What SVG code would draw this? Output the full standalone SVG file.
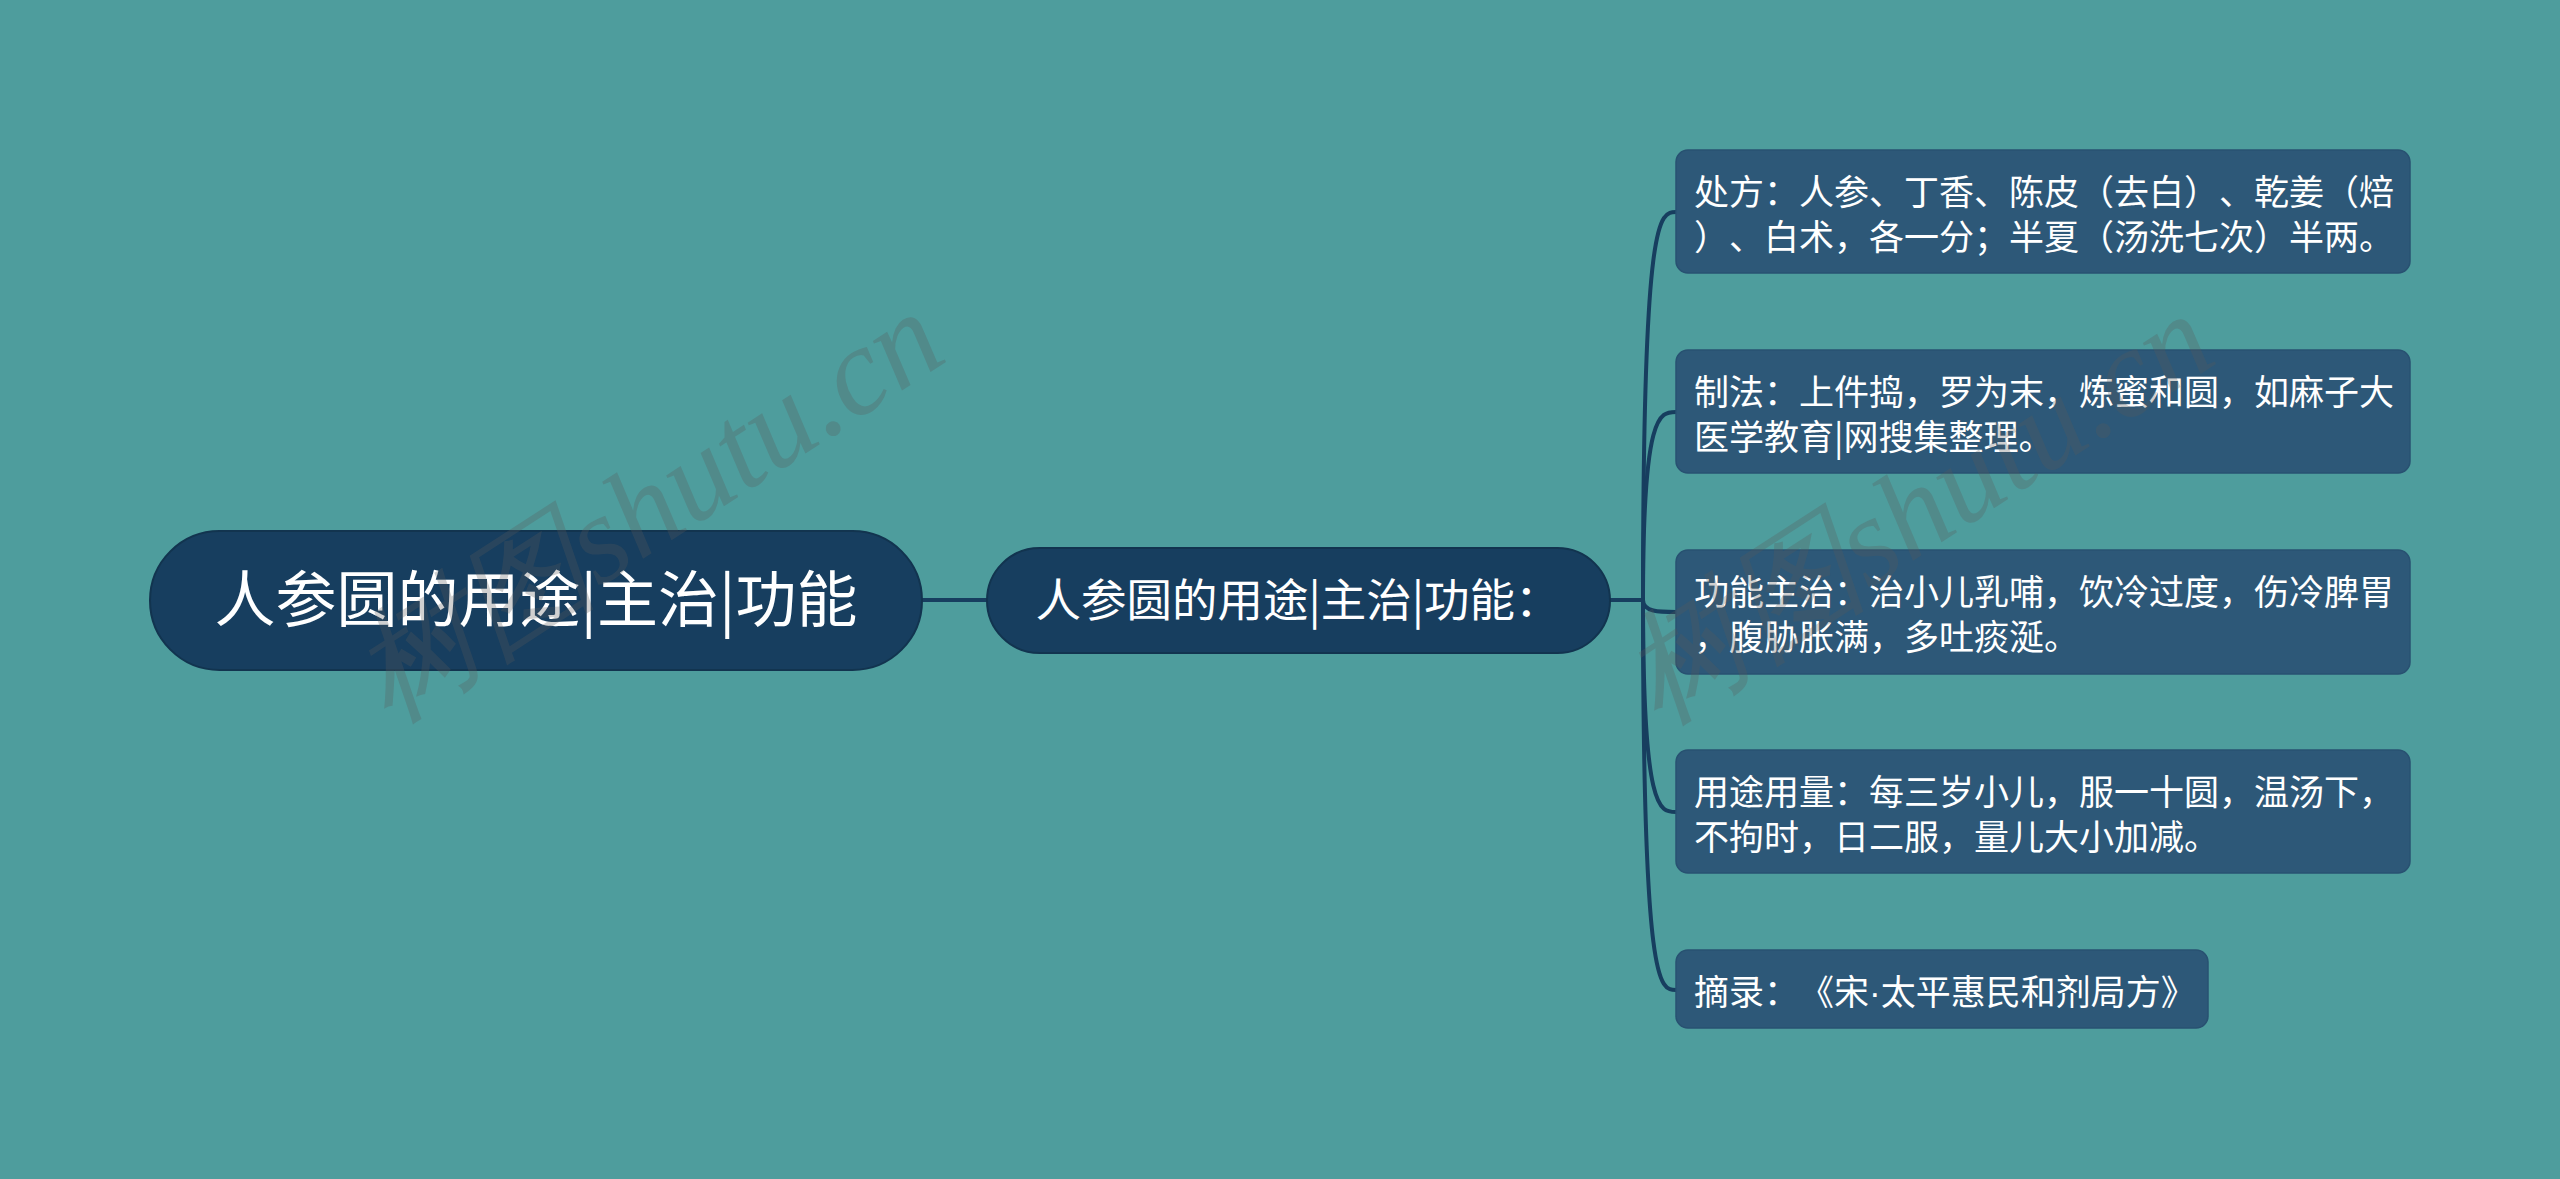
<svg xmlns="http://www.w3.org/2000/svg" width="2560" height="1179" viewBox="0 0 2560 1179">
  <style>
    .cjk { font-family: "Noto Sans CJK SC", "Noto Sans", sans-serif; fill: #ffffff; text-spacing-trim: space-all; }
    .root-shape { fill: #173e5f; stroke: #12344f; stroke-width: 2; }
    .mid-shape { fill: #173e5f; stroke: #12344f; stroke-width: 2; }
    .leaf-shape { fill: #2d5878; stroke: #285171; stroke-width: 1.5; }
    .conn { fill: none; stroke: #173e5f; stroke-width: 4; stroke-linecap: round; }
    .leaf-text { font-size: 35px; }
    .lat { font-family: "Liberation Sans", sans-serif; }
    .wm { font-family: "Liberation Serif", serif; font-style: italic; font-size: 125px; fill: #5a5a5a; opacity: 0.28; }
  </style>
  <rect x="0" y="0" width="2560" height="1179" fill="#4e9d9d"/>

  <g id="connectors">
    <line class="conn" x1="922" y1="600" x2="988" y2="600"/>
    <line class="conn" x1="1610" y1="600" x2="1643" y2="600"/>
    <path class="conn" d="M1643 600 C1643 212 1659.5 212 1676 212"/>
    <path class="conn" d="M1643 600 C1643 412 1659.5 412 1676 412"/>
    <path class="conn" d="M1643 600 C1643 612 1659.5 612 1676 612"/>
    <path class="conn" d="M1643 600 C1643 812 1659.5 812 1676 812"/>
    <path class="conn" d="M1643 600 C1643 990 1659.5 990 1676 990"/>
  </g>

  <g id="root">
    <rect class="root-shape" x="150" y="531" width="772" height="139" rx="69.5"/>
    <text class="cjk" x="536" y="622" font-size="61" text-anchor="middle">人参圆的用途|主治|功能</text>
  </g>

  <g id="mid">
    <rect class="mid-shape" x="987" y="548" width="623" height="105" rx="52.5"/>
    <text class="cjk" x="1298" y="617" font-size="45.5" text-anchor="middle">人参圆的用途|主治|功能：</text>
  </g>

  <g id="leaf1">
    <rect class="leaf-shape" x="1676" y="150" width="734" height="123" rx="12"/>
    <text class="cjk leaf-text" x="1694" y="205">处方：人参、丁香、陈皮（去白）、乾姜（焙</text>
    <text class="cjk leaf-text" x="1694" y="250">）、白术，各一分；半夏（汤洗七次）半两。</text>
  </g>

  <g id="leaf2">
    <rect class="leaf-shape" x="1676" y="350" width="734" height="123" rx="12"/>
    <text class="cjk leaf-text" x="1694" y="405">制法：上件捣，罗为末，炼蜜和圆，如麻子大</text>
    <text class="cjk leaf-text" x="1694" y="450">医学教育|网搜集整理。</text>
  </g>

  <g id="leaf3">
    <rect class="leaf-shape" x="1676" y="550" width="734" height="124" rx="12"/>
    <text class="cjk leaf-text" x="1694" y="605">功能主治：治小儿乳哺，饮冷过度，伤冷脾胃</text>
    <text class="cjk leaf-text" x="1694" y="650">，腹胁胀满，多吐痰涎。</text>
  </g>

  <g id="leaf4">
    <rect class="leaf-shape" x="1676" y="750" width="734" height="123" rx="12"/>
    <text class="cjk leaf-text" x="1694" y="805">用途用量：每三岁小儿，服一十圆，温汤下，</text>
    <text class="cjk leaf-text" x="1694" y="850">不拘时，日二服，量儿大小加减。</text>
  </g>

  <g id="leaf5">
    <rect class="leaf-shape" x="1676" y="950" width="532" height="78" rx="12"/>
    <text class="cjk leaf-text" x="1694" y="1005">摘录：《宋<tspan class="lat">·</tspan>太平惠民和剂局方》</text>
  </g>

  <g id="watermarks">
    <text class="wm" transform="translate(648,508) rotate(-33)" text-anchor="middle" y="40">树图shutu.cn</text>
    <text class="wm" transform="translate(1918,510) rotate(-33)" text-anchor="middle" y="40">树图shutu.cn</text>
  </g>
</svg>
